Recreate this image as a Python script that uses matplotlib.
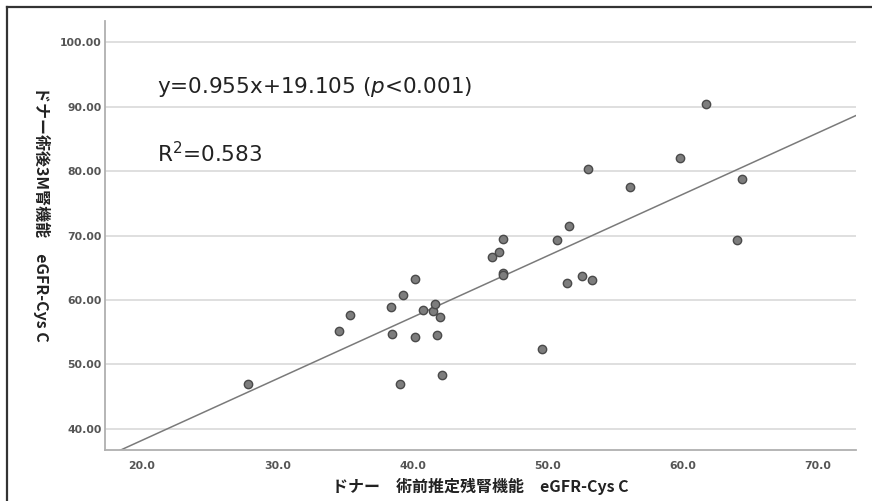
import matplotlib
matplotlib.use("Agg")
import matplotlib.pyplot as plt
from matplotlib.lines import Line2D

plt.rcParams['font.family'] = ['Noto Sans CJK JP', 'DejaVu Sans']

# donor: preoperative estimated remnant kidney function vs 3M postoperative
pre_egfr = [27.8, 34.6, 35.4, 38.4, 38.5, 39.3, 39.1, 40.2, 40.2, 40.8,
            41.5, 41.7, 42.0, 41.8, 42.2, 45.85, 46.4, 46.7, 46.7, 46.7,
            49.6, 50.7, 51.6, 51.4, 52.5, 53.0, 53.3, 56.1, 59.8, 61.7,
            64.4, 64.0]
post_egfr = [47.0, 55.2, 57.6, 58.9, 54.7, 60.8, 46.9, 63.2, 54.2, 58.4,
             58.3, 59.4, 57.3, 54.5, 48.3, 66.6, 67.4, 69.4, 64.2, 63.8,
             52.4, 69.3, 71.4, 62.6, 63.7, 80.3, 63.1, 77.6, 82.1, 90.4,
             78.7, 69.3]

slope = 0.955
intercept = 19.105
xlim = (17.26, 72.8)
ylim = (36.7, 103.3)
xticks = [20, 30, 40, 50, 60, 70]
yticks = [40, 50, 60, 70, 80, 90, 100]

fig = plt.figure(figsize=(8.72, 5.01), dpi=100)
fig.patch.set_facecolor('white')
ax = fig.add_axes([105 / 872, 1 - 450 / 501, 751 / 872, 429 / 501])

ax.set_xlim(*xlim)
ax.set_ylim(*ylim)
ax.set_xticks(xticks)
ax.set_yticks(yticks)
ax.set_xticklabels(['%.1f' % v for v in xticks])
ax.set_yticklabels(['%.2f' % v for v in yticks])
ax.tick_params(length=0, labelsize=7.8, labelcolor='#555555')
ax.tick_params(axis='x', pad=8)
ax.tick_params(axis='y', pad=2.5)
for lab in ax.get_xticklabels() + ax.get_yticklabels():
    lab.set_fontweight('bold')
    lab.set_family('DejaVu Sans')

ax.grid(axis='y', color='#dcdcdc', linewidth=1.3)
ax.set_axisbelow(True)
for s in ['top', 'right']:
    ax.spines[s].set_visible(False)
for s in ['left', 'bottom']:
    ax.spines[s].set_color('#b0b0b0')
    ax.spines[s].set_linewidth(1.3)

# fit line over the whole x range
ax.plot(list(xlim), [slope * xlim[0] + intercept, slope * xlim[1] + intercept],
        color='#7a7a7a', linewidth=1.1, zorder=2)

ax.scatter(pre_egfr, post_egfr, s=36, color='#7d7d7d', edgecolor='#4a4a4a',
           linewidth=1.0, zorder=3)

ax.text(0.069, 0.832, 'y=0.955x+19.105 ($p$<0.001)', transform=ax.transAxes,
        fontsize=15.5, color='#222222', family='DejaVu Sans', va='baseline')
ax.text(0.069, 0.671, 'R$^{2}$=0.583', transform=ax.transAxes,
        fontsize=15.5, color='#222222', family='DejaVu Sans', va='baseline')

ax.set_xlabel('ドナー　術前推定残腎機能　eGFR-Cys C', fontsize=11.5,
              fontweight='bold', color='#222222')
ax.xaxis.set_label_coords(0.5, -0.066)
ax.set_ylabel('ドナー術後3M腎機能　eGFR-Cys C', fontsize=11.5,
              fontweight='bold', color='#222222', rotation=270)
ax.yaxis.set_label_coords(-0.096, 0.55)

# frame lines on the top and left of the picture
fig.add_artist(Line2D([7 / 872, 1], [1 - 7 / 501, 1 - 7 / 501],
                      color='#333333', linewidth=1.6))
fig.add_artist(Line2D([7 / 872, 7 / 872], [0, 1 - 7 / 501],
                      color='#333333', linewidth=1.6))

fig.savefig('out.png', dpi=100)
